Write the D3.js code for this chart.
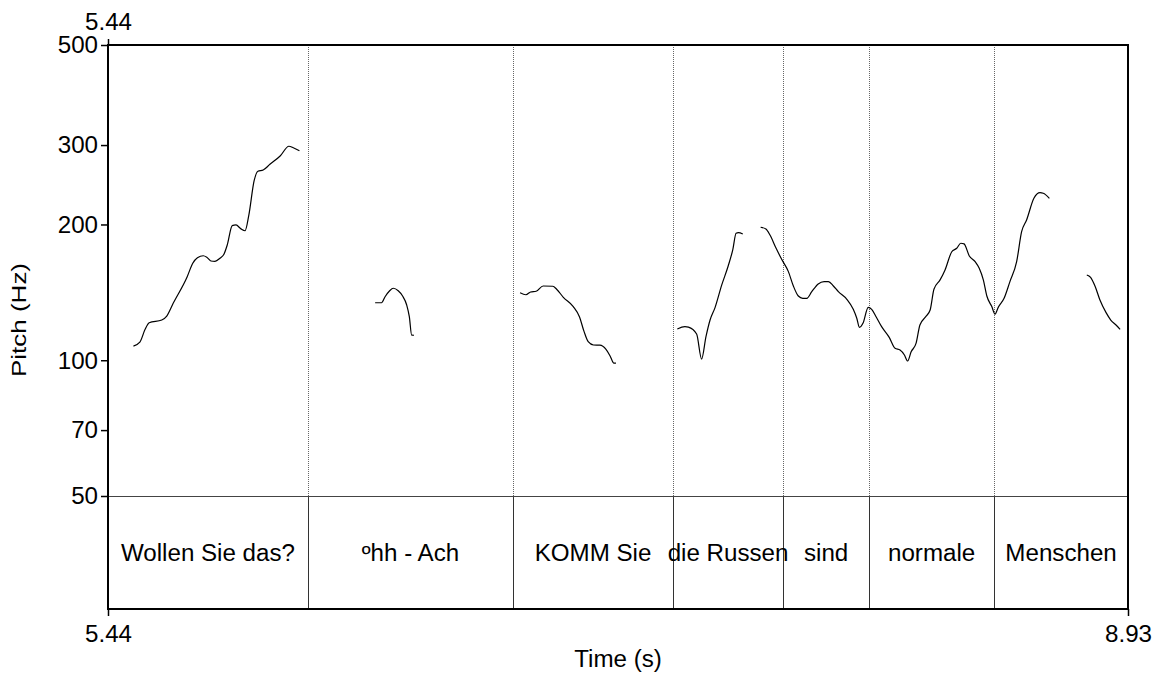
<!DOCTYPE html>
<html>
<head>
<meta charset="utf-8">
<script src="https://cdn.jsdelivr.net/npm/d3@7"></script>
<style>
  html, body { margin: 0; padding: 0; background: #fff; }
  svg { display: block; }
  text { font-family: "Liberation Sans", Arial, sans-serif; fill: #000; }
</style>
</head>
<body>
<svg id="chart" width="1157" height="673"></svg>
<script>
// Time window (s) and pitch range (Hz)
const timeRange = [5.44, 8.93];
const pitchRange = [50, 500];
const pitchTicks = [50, 70, 100, 200, 300, 500];
const timeTickLabels = ["5.44", "8.93"];

// Interval tier: boundaries (s) and the words between them
const boundaries = [6.124, 6.826, 7.373, 7.750, 8.044, 8.472];
const words = ["Wollen Sie das?", "\u00BAhh - Ach", "KOMM Sie", "die Russen", "sind", "normale", "Menschen"];

// Pitch contour pieces: [time (s), F0 (Hz)]
const pitchWollen = [
  [5.527,107.5],[5.549,109.7],[5.567,117.1],[5.581,121.1],[5.624,122.8],[5.641,125.3],
  [5.663,133.7],[5.711,153.2],[5.730,164.1],[5.746,168.8],[5.766,170.5],[5.778,169.2],
  [5.792,166.0],[5.806,165.7],[5.823,168.3],[5.837,172.0],[5.848,180.1],[5.865,198.8],
  [5.878,199.5],[5.894,195.8],[5.909,193.7],[5.922,210.0],[5.940,250.1],[5.953,262.4],
  [5.971,264.1],[5.994,271.9],[6.029,283.7],[6.059,298.2],[6.074,296.0],[6.095,291.5]
];
const pitchAch = [
  [6.354,134.1],[6.376,134.1],[6.388,138.3],[6.403,142.4],[6.416,144.4],[6.433,142.6],
  [6.448,138.8],[6.462,132.6],[6.471,124.9],[6.479,113.7],[6.487,113.6]
];
const pitchKomm = [
  [6.850,141.1],[6.870,139.7],[6.886,141.7],[6.905,142.2],[6.929,146.1],[6.962,145.9],
  [6.975,143.7],[6.998,137.9],[7.032,131.5],[7.053,124.9],[7.069,115.7],[7.083,109.9],
  [7.101,108.1],[7.123,108.0],[7.144,105.7],[7.158,102.2],[7.171,98.5],[7.178,98.5]
];
const pitchDieRussen = [
  [7.388,117.3],[7.414,118.7],[7.426,118.4],[7.454,114.3],[7.471,100.6],[7.486,112.8],
  [7.500,122.8],[7.517,130.8],[7.540,146.9],[7.562,161.8],[7.578,176.2],[7.589,191.2],
  [7.597,191.8],[7.612,190.5]
];
const pitchRussenToMenschen = [
  [7.673,197.2],[7.691,195.5],[7.705,189.5],[7.726,177.1],[7.745,167.4],[7.768,157.2],
  [7.785,146.1],[7.802,138.8],[7.817,137.2],[7.831,137.2],[7.848,141.9],[7.870,147.6],
  [7.890,149.4],[7.905,149.4],[7.922,146.1],[7.939,141.9],[7.968,136.5],[7.990,129.7],
  [8.002,123.9],[8.011,118.3],[8.024,121.1],[8.041,131.0],[8.053,129.7],[8.068,124.9],
  [8.087,118.7],[8.113,112.4],[8.133,106.3],[8.150,105.4],[8.165,102.7],[8.176,99.6],
  [8.188,104.4],[8.205,109.1],[8.218,119.7],[8.238,124.9],[8.253,129.2],[8.266,143.7],
  [8.287,150.7],[8.304,158.6],[8.327,174.0],[8.344,177.1],[8.358,181.7],[8.369,181.1],
  [8.387,170.3],[8.407,165.4],[8.421,159.9],[8.435,150.7],[8.447,138.8],[8.464,131.5],
  [8.475,126.6],[8.486,131.0],[8.506,137.2],[8.526,149.4],[8.549,165.4],[8.566,192.8],
  [8.583,204.6],[8.608,228.6],[8.629,235.3],[8.640,234.6],[8.661,228.6]
];
const pitchMenschenEnd = [
  [8.789,154.5],[8.802,152.7],[8.817,146.1],[8.834,136.0],[8.855,127.5],[8.871,122.8],
  [8.889,119.7],[8.903,117.1]
];
const contours = [pitchWollen, pitchAch, pitchKomm, pitchDieRussen, pitchRussenToMenschen, pitchMenschenEnd];

// Layout
const plotLeft = 108, plotRight = 1128, plotTop = 45, pitchBottom = 496, tierBottom = 609;
const fontSize = 23;
const stretch = 1.05; // horizontal widening of the text glyphs

const svg = d3.select("#chart");
const x = d3.scaleLinear().domain(timeRange).range([plotLeft, plotRight]);
const y = d3.scaleLog().domain(pitchRange).range([pitchBottom, plotTop]);

// Interval boundaries: dotted through the pitch area, solid inside the tier
svg.append("g").selectAll("line").data(boundaries).join("line")
  .attr("x1", d => Math.round(x(d)) + 0.5).attr("x2", d => Math.round(x(d)) + 0.5)
  .attr("y1", plotTop).attr("y2", pitchBottom)
  .attr("stroke", "#666").attr("stroke-width", 1).attr("stroke-dasharray", "1,1");
svg.append("g").selectAll("line").data(boundaries).join("line")
  .attr("x1", d => Math.round(x(d)) + 0.5).attr("x2", d => Math.round(x(d)) + 0.5)
  .attr("y1", pitchBottom).attr("y2", tierBottom)
  .attr("stroke", "#333").attr("stroke-width", 1);

// Tier top line
svg.append("line")
  .attr("x1", plotLeft).attr("x2", plotRight).attr("y1", pitchBottom + 0.5).attr("y2", pitchBottom + 0.5)
  .attr("stroke", "#444").attr("stroke-width", 1.2);

// Pitch contours
const line = d3.line().x(d => x(d[0])).y(d => y(d[1])).curve(d3.curveMonotoneX);
svg.append("g").selectAll("path").data(contours).join("path")
  .attr("d", line)
  .attr("fill", "none").attr("stroke", "#000").attr("stroke-width", 1.2)
  .attr("stroke-linejoin", "round");

// Words centred in their intervals
const edges = [timeRange[0], ...boundaries, timeRange[1]];
svg.append("g").selectAll("g").data(words).join("g")
  .attr("transform", (d, i) => `translate(${(x(edges[i]) + x(edges[i + 1])) / 2},561) scale(${stretch},1)`)
  .append("text")
  .attr("text-anchor", "middle").attr("font-size", fontSize)
  .text(d => d);

// Frame
svg.append("rect")
  .attr("x", plotLeft).attr("y", plotTop).attr("width", plotRight - plotLeft).attr("height", tierBottom - plotTop)
  .attr("fill", "none").attr("stroke", "#000").attr("stroke-width", 2);

// Left pitch axis
const yAxis = d3.axisLeft(y).tickValues(pitchTicks).tickFormat(d3.format("d")).tickSize(7).tickPadding(3);
const yG = svg.append("g").attr("transform", `translate(${plotLeft},0)`).call(yAxis);
yG.select(".domain").remove();
yG.selectAll(".tick line").attr("stroke", "#000").attr("stroke-width", 1.5);
yG.selectAll(".tick text")
  .attr("font-size", fontSize).attr("font-family", "Liberation Sans, Arial, sans-serif")
  .attr("fill", "#000").attr("dy", "0.34em")
  .attr("x", -10 / stretch)
  .attr("transform", `scale(${stretch},1)`);

// Time axis: start and end times only
const xAxis = d3.axisBottom(x).tickValues(timeRange).tickFormat((d, i) => timeTickLabels[i]).tickSize(7).tickPadding(4);
const xG = svg.append("g").attr("transform", `translate(0,${tierBottom})`).call(xAxis);
xG.select(".domain").remove();
xG.selectAll(".tick line").attr("stroke", "#000").attr("stroke-width", 1.5);
xG.selectAll(".tick text")
  .attr("font-size", fontSize).attr("font-family", "Liberation Sans, Arial, sans-serif")
  .attr("fill", "#000").attr("y", 17).attr("dy", "0.71em")
  .attr("transform", `scale(${stretch},1)`)
  .attr("x", 0);

// Start time repeated above the frame
const xTop = d3.axisTop(x).tickValues([timeRange[0]]).tickFormat(() => timeTickLabels[0]).tickSize(6).tickPadding(9);
const xTopG = svg.append("g").attr("transform", `translate(0,${plotTop})`).call(xTop);
xTopG.select(".domain").remove();
xTopG.selectAll(".tick line").attr("stroke", "#000").attr("stroke-width", 1.5);
xTopG.selectAll(".tick text")
  .attr("font-size", fontSize).attr("font-family", "Liberation Sans, Arial, sans-serif")
  .attr("fill", "#000").attr("transform", `scale(${stretch},1)`);

// Axis titles
svg.append("g").attr("transform", `translate(618,667) scale(${stretch},1)`)
  .append("text").attr("text-anchor", "middle").attr("font-size", fontSize).text("Time (s)");
svg.append("g").attr("transform", "translate(26,320) rotate(-90) scale(1.13,0.9)")
  .append("text").attr("text-anchor", "middle").attr("font-size", fontSize).text("Pitch (Hz)");
</script>
</body>
</html>
